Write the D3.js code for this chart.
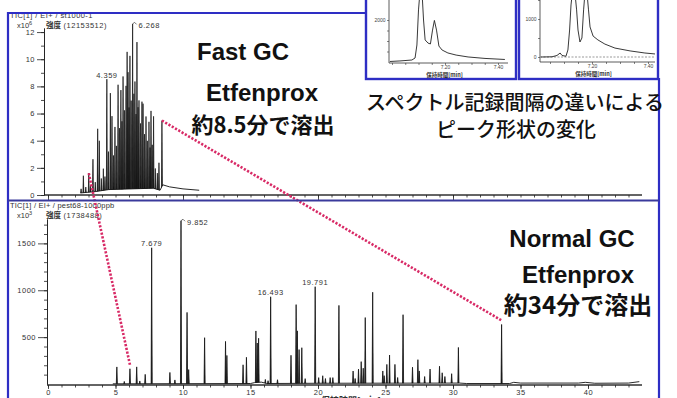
<!DOCTYPE html>
<html>
<head>
<meta charset="utf-8">
<script src="https://cdn.jsdelivr.net/npm/d3@7"></script>
<style>
  body { margin: 0; background: #fff; }
  svg { display: block; }
</style>
</head>
<body>
<svg id="chart" width="677" height="398"></svg>
<script>
// ---- Fast GC (TIC, x10^6): [retention time (min), peak height] ----
const fastPeaks = [
  [2.45,0.3],[2.62,1.25],[2.8,0.4],[3.02,1.4],[3.15,0.5],[3.33,2.4],[3.5,0.7],[3.68,4.6],[3.8,3.7],
  [3.95,0.9],[4.1,1.6],[4.22,1.0],[4.359,8.15],[4.48,2.8],[4.62,7.1],[4.74,5.4],[4.85,2.5],[4.96,4.6],
  [5.07,3.2],[5.19,7.7],[5.3,4.5],[5.4,7.3],[5.48,5.0],[5.56,8.3],[5.66,5.8],[5.78,7.6],[5.86,10.1],
  [5.93,8.6],[6.0,6.0],[6.07,9.8],[6.16,6.5],[6.268,12.15],[6.36,7.0],[6.44,7.9],[6.52,5.5],[6.59,10.8],
  [6.67,6.0],[6.74,6.5],[6.85,4.8],[6.96,6.4],[7.04,6.25],[7.15,4.0],[7.26,5.3],[7.36,3.5],[7.48,4.9],
  [7.56,3.0],[7.63,5.7],[7.72,3.2],[7.82,5.3],[7.95,1.5],[8.1,1.2],[8.22,2.0],[8.44,4.85]
];
const fastBaseline = [[2.4,0.15],[3.5,0.25],[4.5,0.4],[7.8,0.5],[8.3,0.35],[8.5,0.75],[9,0.6],[10,0.45],[11.2,0.35]];
const fastLabels = [{ t: 4.359, text: "4.359", side: "top" }, { t: 6.268, text: "6.268", side: "right" }];

// ---- Normal GC (TIC, x10^3) ----
const normalPeaks = [
  [5.1,180],[5.65,25],[6.07,160],[6.57,180],[6.8,30],[7.2,100],[7.679,1450],[9.03,120],[9.4,40],
  [9.852,1738],[10.3,760],[10.42,150],[11.6,490],[13.15,450],[13.25,300],[14.45,200],[14.7,280],
  [15.4,550],[15.5,420],[15.6,470],[16.1,40],[16.3,30],[16.493,925],[17.0,40],[18.0,300],[18.38,840],
  [18.47,560],[18.6,360],[18.8,380],[19.05,50],[19.791,1030],[20.05,60],[20.35,80],[20.55,50],
  [20.9,60],[21.1,60],[21.55,830],[22.6,130],[22.75,50],[23.0,150],[23.2,230],[23.35,160],[23.5,700],
  [24.05,970],[24.8,130],[24.9,80],[25.1,200],[25.3,300],[25.7,200],[25.9,60],[26.3,730],[27.0,170],
  [27.4,250],[27.5,130],[27.9,70],[28.3,150],[29.0,180],[29.2,110],[29.4,70],[29.9,100],[30.4,380],
  [33.6,630]
];
const normalBaseline = [[4.8,2],[15,5],[15.3,15],[15.8,20],[16.2,5],[20,8],[30.5,10],[31,5],[34.2,5],
  [34.5,18],[35,10],[39.3,10],[39.8,18],[40.5,8],[43,10],[43.8,25]];
const normalLabels = [
  { t: 7.679, text: "7.679", side: "top" }, { t: 9.852, text: "9.852", side: "right" },
  { t: 16.493, text: "16.493", side: "top" }, { t: 19.791, text: "19.791", side: "top" }
];

// Corresponding peaks between the two runs: [fast time, normal time]
const peakLinks = [[8.44, 33.6], [3.02, 6.07]];

// ---- Inset traces (scan interval comparison): [time (min), intensity] ----
const insetATrace = [
  [6.992,25],[7.030,50],[7.075,95],[7.087,190],[7.094,810],[7.100,2480],[7.106,3400],[7.113,3400],
  [7.119,2000],[7.125,1050],[7.136,900],[7.145,860],[7.153,1520],[7.160,1980],[7.168,1520],[7.177,760],
  [7.189,570],[7.211,430],[7.242,330],[7.287,240],[7.351,170],[7.426,120]
];
const insetBTrace = [
  [7.018,0],[7.057,5],[7.075,40],[7.086,105],[7.093,40],[7.107,20],[7.114,185],[7.120,710],[7.125,1370],
  [7.130,1700],[7.139,1700],[7.145,1240],[7.150,710],[7.157,395],[7.164,500],[7.170,1240],[7.175,1700],
  [7.182,1700],[7.1875,1240],[7.193,790],[7.204,550],[7.221,450],[7.246,340],[7.282,235],[7.336,160],
  [7.389,105],[7.425,80]
];

const timeMinor = d3.range(0, 44, 1);
const timeMajorFast = d3.range(0, 41, 10);
const timeMajorNormal = d3.range(0, 41, 5);
const fastTicksMinor = d3.range(0, 13, 1);
const fastTicksMajor = d3.range(0, 13, 2);
const normalTicksMinor = d3.range(100, 1800, 100);
const normalTicksMajor = [500, 1000, 1500];

const LATIN = "'Liberation Sans', Arial, sans-serif";
const CJK = "'Noto Sans CJK JP', 'Noto Sans', sans-serif";
const FRAME = "#2e2ec4";
const RED = "#d82a66";

const svg = d3.select("#chart");

// ---- scales ----
const x = d3.scaleLinear().domain([0, 44]).range([48, 642]);
const yFast = d3.scaleLinear().domain([0, 12.3]).range([195, 28]);
const yNorm = d3.scaleLinear().domain([0, 1760]).range([384, 219]);
const fastBase = d3.scaleLinear().domain(fastBaseline.map(d => d[0])).range(fastBaseline.map(d => d[1])).clamp(true);
const normBase = d3.scaleLinear().domain(normalBaseline.map(d => d[0])).range(normalBaseline.map(d => d[1])).clamp(true);

function styleAxis(g, size) {
  g.selectAll("path.domain").attr("stroke", "#222").attr("stroke-width", 0.9);
  g.selectAll(".tick line").attr("stroke", "#222").attr("stroke-width", 0.8);
  g.selectAll(".tick text").attr("fill", "#333").attr("font-family", LATIN)
    .attr("font-size", size).attr("letter-spacing", 0.5);
}

function yAxis(scale, x0, minor, major, labelled, majorSize, fontSize) {
  const g = svg.append("g").attr("transform", `translate(${x0},0)`);
  g.append("g").call(d3.axisLeft(scale).tickValues(minor).tickSize(3).tickSizeOuter(0).tickFormat(""));
  g.append("g").call(d3.axisLeft(scale).tickValues(major).tickSize(majorSize).tickSizeOuter(0).tickPadding(2)
    .tickFormat(d => labelled.includes(d) ? d : ""));
  g.selectAll("g").each(function () { styleAxis(d3.select(this), fontSize); });
  return g;
}

function xAxis(y0, x0, minor, major, labels, majorSize) {
  const g = svg.append("g").attr("transform", `translate(0,${y0})`);
  g.append("g").call(d3.axisBottom(x).tickValues(minor).tickSize(2.5).tickSizeOuter(0).tickFormat(""));
  g.append("g").call(d3.axisBottom(x).tickValues(major).tickSize(majorSize).tickSizeOuter(0).tickPadding(1)
    .tickFormat(d => labels ? d : ""));
  g.selectAll("g").each(function () { styleAxis(d3.select(this), 7.5); });
  g.selectAll("path.domain").attr("d", `M${x0},0H${x.range()[1]}`);
  return g;
}

function drawTrace(yScale, base, baseline, peaks, w, strokeW) {
  const g = svg.append("g");
  const line = d3.line().x(d => x(d[0])).y(d => yScale(d[1]));
  g.append("path").attr("d", line(baseline)).attr("fill", "none").attr("stroke", "#111").attr("stroke-width", 0.9);
  g.selectAll("path.pk").data(peaks).join("path").attr("class", "pk")
    .attr("d", ([t, h]) => line([[t - w, base(t - w)], [t, base(t) + h], [t + w, base(t + w)]]))
    .attr("fill", "#111").attr("stroke", "#111").attr("stroke-width", strokeW).attr("stroke-linejoin", "miter");
  return g;
}

function drawLabels(labels, peaks, base, yScale) {
  labels.forEach(l => {
    const h = peaks.find(p => p[0] === l.t)[1];
    const px = x(l.t), py = yScale(base(l.t) + h);
    if (l.side === "top") {
      svg.append("text").attr("x", px).attr("y", py - 1.5).attr("text-anchor", "middle")
        .attr("font-family", LATIN).attr("font-size", 7.5).attr("letter-spacing", 0.5).attr("fill", "#333").text(l.text);
    } else {
      svg.append("path").attr("d", `M${px},${py}l2,-1.5l2,2`).attr("fill", "none").attr("stroke", "#333").attr("stroke-width", 0.7);
      svg.append("text").attr("x", px + 6).attr("y", py + 4).attr("font-family", LATIN)
        .attr("font-size", 7.5).attr("letter-spacing", 0.5).attr("fill", "#333").text(l.text);
    }
  });
}

// ---- Fast GC panel ----
svg.append("text").attr("x", 10).attr("y", 18).attr("font-family", LATIN).attr("font-size", 7.5)
  .attr("letter-spacing", 0.4).attr("fill", "#333").text("TIC[1] / EI+ / st1000-1");
svg.append("text").attr("x", 17).attr("y", 28).attr("font-family", LATIN).attr("font-size", 7.5).attr("fill", "#333")
  .call(t => { t.append("tspan").text("x10"); t.append("tspan").attr("dy", -3).attr("font-size", 5.5).text("6"); });
svg.append("text").attr("x", 46).attr("y", 28).attr("font-family", CJK).attr("font-size", 7.5).attr("fill", "#333")
  .call(t => { t.append("tspan").attr("font-weight", 700).text("強度"); t.append("tspan").attr("font-family", LATIN).attr("letter-spacing", 0.5).text(" (12153512)"); });

yAxis(yFast, 44, fastTicksMinor, fastTicksMajor, fastTicksMajor, 7, 7.5);
xAxis(195, 44, timeMinor, timeMajorFast, false, 5);
drawTrace(yFast, fastBase, fastBaseline, fastPeaks, 0.035, 0.7);
drawLabels(fastLabels, fastPeaks, fastBase, yFast);

// ---- Normal GC panel ----
svg.append("text").attr("x", 10).attr("y", 208).attr("font-family", LATIN).attr("font-size", 7.5)
  .attr("letter-spacing", 0.2).attr("fill", "#333").text("TIC[1] / EI+ / pest68-1000ppb");
svg.append("text").attr("x", 17).attr("y", 218).attr("font-family", LATIN).attr("font-size", 7.5).attr("fill", "#333")
  .call(t => { t.append("tspan").text("x10"); t.append("tspan").attr("dy", -3).attr("font-size", 5.5).text("3"); });
svg.append("text").attr("x", 46).attr("y", 218).attr("font-family", CJK).attr("font-size", 7.5).attr("fill", "#333")
  .call(t => { t.append("tspan").attr("font-weight", 700).text("強度"); t.append("tspan").attr("font-family", LATIN).attr("letter-spacing", 0.5).text(" (1738488)"); });

yAxis(yNorm, 47, normalTicksMinor, normalTicksMajor, normalTicksMajor, 9, 7.5);
xAxis(385, 47, timeMinor, timeMajorNormal, true, 4);
drawTrace(yNorm, normBase, normalBaseline, normalPeaks, 0.04, 0.8);
drawLabels(normalLabels, normalPeaks, normBase, yNorm);
svg.append("text").attr("x", 351).attr("y", 404).attr("text-anchor", "middle").attr("font-family", CJK)
  .attr("font-size", 9).attr("font-weight", 700).attr("fill", "#333").text("保持時間[min]");

// ---- links between matching peaks ----
const fastH = t => fastBase(t) + fastPeaks.find(p => p[0] === t)[1];
const normH = t => normBase(t) + normalPeaks.find(p => p[0] === t)[1];
svg.selectAll("line.link").data(peakLinks).join("line").attr("class", "link")
  .attr("x1", d => x(d[0])).attr("y1", d => yFast(fastH(d[0])))
  .attr("x2", d => x(d[1])).attr("y2", d => yNorm(normH(d[1])) - 4)
  .attr("stroke", RED).attr("stroke-width", 2.6).attr("stroke-dasharray", "2.2 1.6");

// ---- frames ----
const frame = svg.append("g").attr("fill", "none");
frame.append("path").attr("d", "M8,13H367").attr("stroke", FRAME).attr("stroke-width", 2);
frame.append("path").attr("d", "M8,12V398").attr("stroke", FRAME).attr("stroke-width", 2.2);
frame.append("path").attr("d", "M659,78V398").attr("stroke", FRAME).attr("stroke-width", 2.2);
frame.append("path").attr("d", "M8,200.5H659").attr("stroke", "#3a3a9c").attr("stroke-width", 2);

// ---- insets ----
function inset(x0, w, trace, sx, sy, axisX0, axisX1, axisY, yTicks, yLabels, zeroLine, clipId) {
  const g = svg.append("g");
  g.append("rect").attr("x", x0).attr("y", -6).attr("width", w).attr("height", 85)
    .attr("fill", "#fff").attr("stroke", FRAME).attr("stroke-width", 2.4);
  svg.append("clipPath").attr("id", clipId).append("rect").attr("x", x0 + 2).attr("y", -6).attr("width", w - 4).attr("height", 83);
  const ax = g.append("g").attr("transform", `translate(${axisX0},0)`)
    .call(d3.axisLeft(sy).tickValues(yTicks).tickSize(2).tickSizeOuter(0).tickPadding(1.5)
      .tickFormat(d => yLabels.includes(d) ? d : ""));
  ax.select("path.domain").attr("d", `M0,${axisY}V-6`);
  const bx = g.append("g").attr("transform", `translate(0,${axisY})`)
    .call(d3.axisBottom(sx).tickValues(d3.range(7.0, 7.45, 0.05)).tickSize(2).tickSizeOuter(0).tickPadding(0.5)
      .tickFormat(d => Math.abs(d - 7.2) < 1e-6 || Math.abs(d - 7.4) < 1e-6 ? d.toFixed(2) : ""));
  bx.select("path.domain").attr("d", `M${axisX0},0H${axisX1}`);
  [ax, bx].forEach(a => {
    a.selectAll("path.domain").attr("stroke", "#333").attr("stroke-width", 0.8);
    a.selectAll(".tick line").attr("stroke", "#333").attr("stroke-width", 0.6);
    a.selectAll(".tick text").attr("font-family", LATIN).attr("font-size", 5).attr("fill", "#444");
  });
  bx.selectAll(".tick").filter(d => d < sx.invert(axisX0) || d > sx.invert(axisX1)).remove();
  if (zeroLine) {
    g.append("line").attr("x1", axisX0).attr("x2", axisX1).attr("y1", sy(0)).attr("y2", sy(0))
      .attr("stroke", "#555").attr("stroke-width", 0.6).attr("stroke-dasharray", "2 1.5");
  }
  g.append("path").attr("clip-path", `url(#${clipId})`)
    .attr("d", d3.line().x(d => sx(d[0])).y(d => sy(d[1]))(trace))
    .attr("fill", "none").attr("stroke", "#222").attr("stroke-width", 0.9);
  g.append("text").attr("x", (axisX0 + axisX1) / 2 - 4).attr("y", axisY + 14).attr("text-anchor", "middle")
    .attr("font-family", CJK).attr("font-size", 5.5).attr("font-weight", 700).attr("fill", "#333").text("保持時間[min]");
}
inset(366, 150, insetATrace,
  d3.scaleLinear().domain([7.2, 7.4]).range([445, 498]),
  d3.scaleLinear().domain([0, 2000]).range([62, 20]),
  389, 508, 63, [500, 1000, 1500, 2000], [2000], false, "clipA");
inset(519, 139, insetBTrace,
  d3.scaleLinear().domain([7.2, 7.4]).range([592, 648]),
  d3.scaleLinear().domain([0, 1000]).range([57, 19]),
  540, 655, 62, [0, 500, 1000, 1500], [0, 1000], true, "clipB");

// ---- annotations ----
const big = (txt, cx, y, size, family, weight) => svg.append("text").attr("x", cx).attr("y", y)
  .attr("text-anchor", "middle").attr("font-family", family).attr("font-size", size)
  .attr("font-weight", weight).attr("fill", "#111").text(txt);
big("Fast GC", 243, 60, 24, LATIN, 700);
big("Etfenprox", 262, 101, 24, LATIN, 700);
big("約8.5分で溶出", 263, 133, 22, CJK, 700);
big("スペクトル記録間隔の違いによる", 515, 110, 20, CJK, 500);
big("ピーク形状の変化", 516, 137, 20, CJK, 500);
big("Normal GC", 572, 247, 24, LATIN, 700);
big("Etfenprox", 578, 283, 24, LATIN, 700);
big("約34分で溶出", 578, 314, 24, CJK, 700);
</script>
</body>
</html>
